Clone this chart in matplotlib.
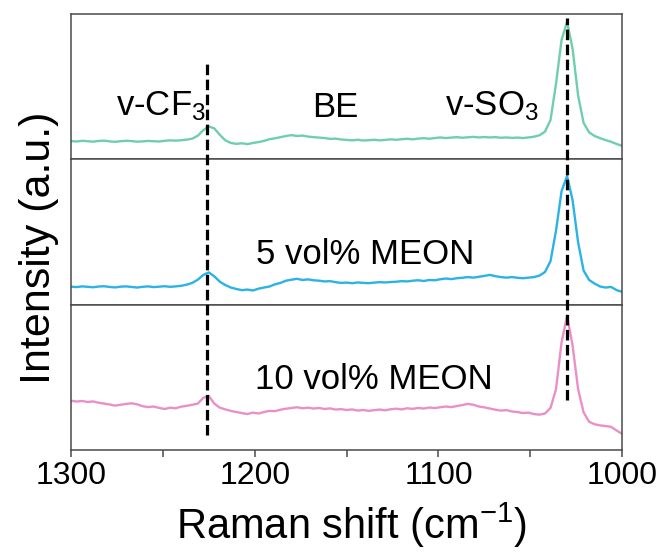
import numpy as np
import matplotlib
matplotlib.use("Agg")
import matplotlib.pyplot as plt

plt.rcParams['font.family'] = ['Liberation Sans', 'DejaVu Sans']
plt.rcParams['mathtext.fontset'] = 'custom'
plt.rcParams['mathtext.rm'] = 'Liberation Sans'
plt.rcParams['mathtext.it'] = 'Liberation Sans:italic'

# Raman spectra, normalised to each panel (x = 1300, 1297, ..., 1000 cm-1)
green_be = [0.125, 0.122, 0.127, 0.124, 0.121, 0.126, 0.128, 0.123, 0.120, 0.124,
            0.127, 0.125, 0.121, 0.123, 0.126, 0.124, 0.122, 0.127, 0.130, 0.128,
            0.131, 0.135, 0.142, 0.162, 0.200, 0.226, 0.212, 0.168, 0.130, 0.112,
            0.106, 0.110, 0.104, 0.112, 0.118, 0.126, 0.138, 0.144, 0.152, 0.160,
            0.166, 0.160, 0.163, 0.156, 0.152, 0.149, 0.146, 0.140, 0.142, 0.136,
            0.133, 0.130, 0.134, 0.129, 0.131, 0.134, 0.130, 0.133, 0.137, 0.134,
            0.138, 0.141, 0.137, 0.142, 0.145, 0.141, 0.146, 0.150, 0.146, 0.149,
            0.152, 0.148, 0.151, 0.154, 0.150, 0.153, 0.150, 0.152, 0.148, 0.150,
            0.147, 0.149, 0.146, 0.150, 0.155, 0.165, 0.190, 0.270, 0.520, 0.820,
            0.945, 0.760, 0.440, 0.250, 0.185, 0.160, 0.145, 0.132, 0.120, 0.105,
            0.092]
blue_5 = [0.124, 0.121, 0.126, 0.123, 0.120, 0.125, 0.127, 0.122, 0.119, 0.124,
          0.126, 0.122, 0.118, 0.123, 0.126, 0.121, 0.124, 0.127, 0.123, 0.126,
          0.130, 0.138, 0.150, 0.172, 0.205, 0.222, 0.195, 0.158, 0.135, 0.118,
          0.108, 0.100, 0.104, 0.098, 0.110, 0.118, 0.125, 0.140, 0.150, 0.165,
          0.172, 0.178, 0.170, 0.174, 0.168, 0.165, 0.160, 0.162, 0.155, 0.150,
          0.152, 0.148, 0.153, 0.150, 0.148, 0.152, 0.155, 0.153, 0.156, 0.158,
          0.162, 0.160, 0.165, 0.168, 0.163, 0.170, 0.168, 0.175, 0.180, 0.176,
          0.182, 0.185, 0.190, 0.186, 0.192, 0.198, 0.205, 0.196, 0.190, 0.186,
          0.190, 0.185, 0.182, 0.186, 0.190, 0.200, 0.225, 0.300, 0.510, 0.780,
          0.885, 0.720, 0.430, 0.235, 0.170, 0.145, 0.125, 0.118, 0.122, 0.100,
          0.088]
pink_10 = [0.340, 0.334, 0.338, 0.331, 0.335, 0.326, 0.320, 0.314, 0.306, 0.312,
           0.318, 0.322, 0.315, 0.302, 0.296, 0.300, 0.290, 0.283, 0.292, 0.288,
           0.299, 0.305, 0.312, 0.320, 0.360, 0.372, 0.320, 0.292, 0.280, 0.270,
           0.262, 0.255, 0.248, 0.258, 0.252, 0.262, 0.270, 0.268, 0.278, 0.285,
           0.290, 0.295, 0.288, 0.292, 0.286, 0.290, 0.283, 0.287, 0.279, 0.282,
           0.276, 0.280, 0.272, 0.276, 0.270, 0.275, 0.279, 0.274, 0.281, 0.285,
           0.280, 0.288, 0.284, 0.290, 0.286, 0.293, 0.289, 0.295, 0.300, 0.296,
           0.303, 0.310, 0.318, 0.312, 0.300, 0.294, 0.286, 0.278, 0.272, 0.275,
           0.266, 0.262, 0.255, 0.258, 0.248, 0.244, 0.252, 0.290, 0.420, 0.740,
           0.925, 0.720, 0.420, 0.260, 0.195, 0.178, 0.170, 0.166, 0.160, 0.135,
           0.112]

spectra = [green_be, blue_5, pink_10]
colors = ['#6fcfab', '#2ab3e4', '#ea90c9']
peak_pos = [1226, 1030]
xticks = [1300, 1200, 1100, 1000]

fig = plt.figure(figsize=(6.64, 5.53), dpi=100)
left, right, bottom, top = 0.107, 0.937, 0.186, 0.975
h = (top - bottom) / 3

axes = []
for i, (ys, c) in enumerate(zip(spectra, colors)):
    ax = fig.add_axes([left, top - (i + 1) * h, right - left, h])
    x = 1300 - 3 * np.arange(len(ys))
    ax.plot(x, ys, color=c, lw=1.7)
    ax.set_xlim(1300, 1000)
    ax.set_ylim(0, 1)
    ax.set_yticks([])
    for s in ax.spines.values():
        s.set_color('#4a4a4a')
        s.set_linewidth(1.1)
    if i < 2:
        ax.tick_params(axis='x', bottom=False, labelbottom=False)
    axes.append(ax)

axb = axes[-1]
axb.set_xticks(xticks)
axb.set_xticks([1250, 1150, 1050], minor=True)
axb.tick_params(axis='x', which='both', direction='out', length=5, width=1.1,
                color='#4a4a4a', labelsize=23, pad=3)
axb.set_xlabel('Raman shift (cm$^{-1}$)', fontsize=30, labelpad=4)
axb.xaxis.set_label_coords(0.508, -0.345)
fig.text(0.058, 0.552, 'Intensity (a.u.)', rotation=90,
         fontsize=31, ha='center', va='center')

# labels
axes[0].text(1251, 0.3, 'v-CF$_3$', fontsize=25, ha='center', va='baseline')
axes[0].text(1156, 0.29, 'BE', fontsize=25, ha='center', va='baseline')
axes[0].text(1071, 0.3, 'v-SO$_3$', fontsize=25, ha='center', va='baseline')
axes[1].text(1140, 0.28, '5 vol% MEON', fontsize=25, ha='center', va='baseline')
axes[2].text(1135, 0.42, '10 vol% MEON', fontsize=25, ha='center', va='baseline')

# dashed guide lines across all panels
ov = fig.add_axes([left, bottom, right - left, top - bottom], zorder=5)
ov.set_xlim(1300, 1000)
ov.set_ylim(0, 1)
ov.axis('off')
ov.plot([peak_pos[0]] * 2, [0.034, 0.894], color='black', lw=2.3, dashes=(3.3, 1.4))
ov.plot([peak_pos[1]] * 2, [0.115, 0.99], color='black', lw=2.3, dashes=(3.3, 1.4))

fig.savefig('out.png', dpi=100)
